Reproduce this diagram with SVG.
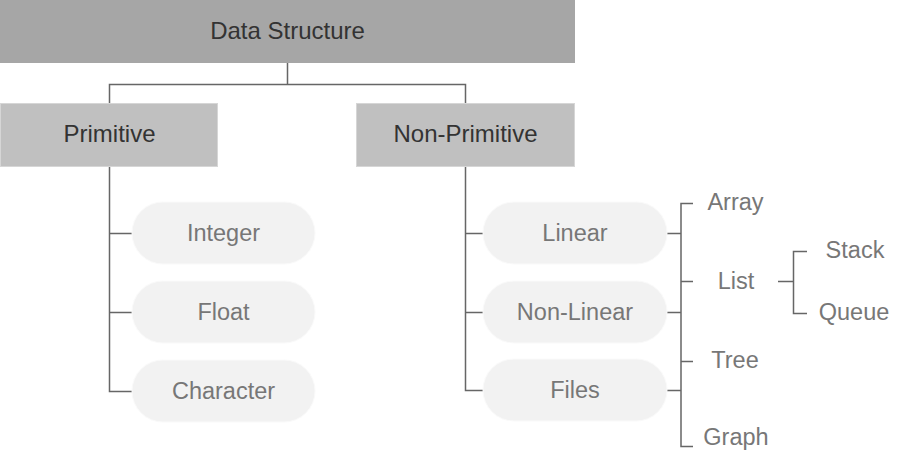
<svg xmlns="http://www.w3.org/2000/svg" width="906" height="470" viewBox="0 0 906 470">
<style>
.hdr{font-family:"Liberation Sans",Arial,sans-serif;font-size:24px;fill:#333;text-anchor:middle}
.lbl{font-family:"Liberation Sans",Arial,sans-serif;font-size:23.5px;fill:#777;text-anchor:middle}
.pill{fill:#f2f2f2;stroke:#fafafa;stroke-width:1}
.box1{fill:#a6a6a6}
.box2{fill:#c0c0c0;stroke:#d6d6d6;stroke-width:1}
.ln{fill:none;stroke:#666;stroke-width:1.5}
</style>
<rect width="906" height="470" fill="#fff"/>
<g id="connectors">
<path class="ln" d="M287.5 63 V84.5 M109.5 103 V84.5 H465.5 V103"/>
<path class="ln" d="M109.5 167 V391.5 H132 M109.5 233.5 H132 M109.5 312.5 H132"/>
<path class="ln" d="M465.5 167 V390.5 H483 M465.5 233.5 H483 M465.5 312.5 H483"/>
<path class="ln" d="M667 233.5 H681 M667 312.5 H681 M667 390.5 H681 M693 203.5 H681 V446.5 H693 M681 281.5 H693 M681 361.5 H693"/>
<path class="ln" d="M778 281.5 H793.5 M807 251.5 H793.5 V313.5 H807"/>
</g>
<g id="data-structure">
<rect class="box1" x="0" y="0" width="575" height="63"/>
<text class="hdr" x="287.5" y="39">Data Structure</text>
</g>
<g id="primitive">
<rect class="box2" x="0.5" y="103.5" width="217" height="63"/>
<text class="hdr" x="109.5" y="142">Primitive</text>
</g>
<g id="non-primitive">
<rect class="box2" x="356.5" y="103.5" width="218" height="63"/>
<text class="hdr" x="465.5" y="142">Non-Primitive</text>
</g>
<g id="integer">
<rect class="pill" x="132" y="202" width="183" height="62" rx="31"/>
<text class="lbl" x="223.5" y="241">Integer</text>
</g>
<g id="float">
<rect class="pill" x="132" y="281" width="183" height="62" rx="31"/>
<text class="lbl" x="223.5" y="320">Float</text>
</g>
<g id="character">
<rect class="pill" x="132" y="360" width="183" height="62" rx="31"/>
<text class="lbl" x="223.5" y="399">Character</text>
</g>
<g id="linear">
<rect class="pill" x="483" y="202" width="184" height="62" rx="31"/>
<text class="lbl" x="575" y="241">Linear</text>
</g>
<g id="non-linear">
<rect class="pill" x="483" y="281" width="184" height="62" rx="31"/>
<text class="lbl" x="575" y="320">Non-Linear</text>
</g>
<g id="files">
<rect class="pill" x="483" y="359" width="184" height="62" rx="31"/>
<text class="lbl" x="575" y="398">Files</text>
</g>
<g id="array"><text class="lbl" x="735.5" y="210">Array</text></g>
<g id="list"><text class="lbl" x="736" y="289">List</text></g>
<g id="tree"><text class="lbl" x="735" y="368">Tree</text></g>
<g id="graph"><text class="lbl" x="736" y="445">Graph</text></g>
<g id="stack"><text class="lbl" x="855" y="258">Stack</text></g>
<g id="queue"><text class="lbl" x="854" y="320">Queue</text></g>
</svg>
